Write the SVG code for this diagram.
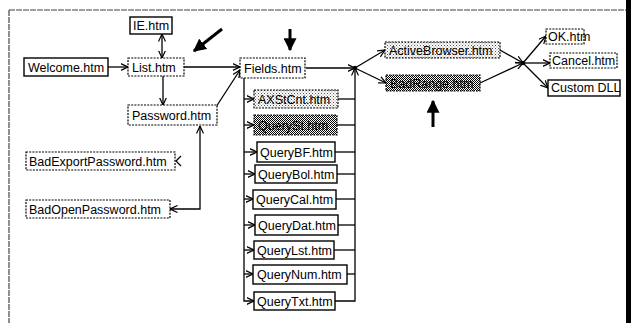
<svg xmlns="http://www.w3.org/2000/svg" width="633" height="323" viewBox="0 0 633 323">
<defs>
<style>
text{font-family:"Liberation Sans",Arial,sans-serif;font-size:12.5px;fill:#000}
.solid{fill:#fff;stroke:#000;stroke-width:1.4}
.dash{fill:#fff;stroke:#000;stroke-width:1.2;stroke-dasharray:2 1.2}
.stip{fill:url(#stipple);stroke:#000;stroke-width:1.2;stroke-dasharray:2 1.2}
.dark{fill:url(#hatch);stroke:#000;stroke-width:1.2;stroke-dasharray:2 1.2}
.c{fill:none;stroke:#000;stroke-width:1.3}
.big{fill:none;stroke:#000;stroke-width:3}
</style>
<pattern id="stipple" width="3" height="3" patternUnits="userSpaceOnUse">
<rect width="3" height="3" fill="#fff"/><rect width="1" height="1" fill="#555"/><rect x="1.5" y="1.5" width="1" height="1" fill="#888"/>
</pattern>
<pattern id="hatch" width="2" height="2" patternUnits="userSpaceOnUse">
<rect width="2" height="2" fill="#fff"/><rect width="1" height="1" fill="#000"/><rect x="1" y="1" width="1" height="1" fill="#000"/>
</pattern>
<marker id="a" viewBox="0 0 8 8" refX="7.5" refY="4" markerWidth="8" markerHeight="8" markerUnits="userSpaceOnUse" orient="auto-start-reverse">
<path d="M0,0.5 L7.5,4 L0,7.5" fill="none" stroke="#000" stroke-width="1.2"/>
</marker>
<marker id="b" viewBox="0 0 10 10" refX="9" refY="5" markerWidth="13" markerHeight="13" markerUnits="userSpaceOnUse" orient="auto">
<path d="M0,0 L10,5 L0,10 Z" fill="#000"/>
</marker>
</defs>

<g id="frame">
<line x1="9" y1="10" x2="628" y2="10" stroke="#444" stroke-width="1.2" stroke-dasharray="6 1"/>
<line x1="9" y1="10" x2="9" y2="323" stroke="#444" stroke-width="1.2" stroke-dasharray="6 1"/>
<rect x="626" y="0" width="5" height="323" fill="#000"/>
</g>

<g id="connectors">
<path class="c" d="M108,67 H128" marker-end="url(#a)"/>
<path class="c" d="M162,34 V58" marker-start="url(#a)" marker-end="url(#a)"/>
<path class="c" d="M163,76 V105" marker-end="url(#a)"/>
<path class="c" d="M184,67 H240" marker-end="url(#a)"/>
<path class="c" d="M216,107 L240,70" marker-end="url(#a)"/>
<path class="c" d="M200,126 V209 H170" marker-start="url(#a)" marker-end="url(#a)"/>
<path class="c" d="M181,156 L176,161 L181,166"/>
<path class="c" d="M244,78 V301 H254" marker-end="url(#a)"/>
<path class="c" d="M244,99 H254" marker-end="url(#a)"/>
<path class="c" d="M244,125 H254" marker-end="url(#a)"/>
<path class="c" d="M244,152 H257" marker-end="url(#a)"/>
<path class="c" d="M244,174 H255" marker-end="url(#a)"/>
<path class="c" d="M244,199 H253" marker-end="url(#a)"/>
<path class="c" d="M244,225 H255" marker-end="url(#a)"/>
<path class="c" d="M244,250 H254" marker-end="url(#a)"/>
<path class="c" d="M244,274 H253" marker-end="url(#a)"/>
<path class="c" d="M335,301 H355 V68" marker-end="url(#a)"/>
<path class="c" d="M338,99 H355"/>
<path class="c" d="M337,125 H355"/>
<path class="c" d="M335,152 H355"/>
<path class="c" d="M337,174 H355"/>
<path class="c" d="M336,199 H355"/>
<path class="c" d="M338,225 H355"/>
<path class="c" d="M334,250 H355"/>
<path class="c" d="M347,274 H355"/>
<path class="c" d="M306,68 H355" marker-end="url(#a)"/>
<path class="c" d="M355,68 L385,50" marker-end="url(#a)"/>
<path class="c" d="M355,68 L386,83" marker-end="url(#a)"/>
<path class="c" d="M500,50 L523,63" marker-end="url(#a)"/>
<path class="c" d="M480,83 L523,63" marker-end="url(#a)"/>
<path class="c" d="M523,63 L546,36" marker-end="url(#a)"/>
<path class="c" d="M523,63 H550" marker-end="url(#a)"/>
<path class="c" d="M523,63 L548,88" marker-end="url(#a)"/>
<circle cx="355" cy="68" r="2.2" fill="#000"/>
<circle cx="523" cy="63" r="2.2" fill="#000"/>
<path class="big" d="M222,29 L194,51" marker-end="url(#b)"/>
<path class="big" d="M290,29 V50" marker-end="url(#b)"/>
<path class="big" d="M433,127 V101" marker-end="url(#b)"/>
</g>

<g id="ie"><rect class="solid" x="130" y="17" width="42" height="17"/><text x="133" y="30">IE.htm</text></g>
<g id="welcome"><rect class="solid" x="24" y="58" width="84" height="18"/><text x="28" y="72">Welcome.htm</text></g>
<g id="list"><rect class="dash" x="128" y="58" width="56" height="18"/><text x="132" y="72">List.htm</text></g>
<g id="password"><rect class="dash" x="128" y="105" width="89" height="20"/><text x="132" y="120">Password.htm</text></g>
<g id="badexport"><rect class="dash" x="26" y="152" width="149" height="18"/><text x="29" y="166">BadExportPassword.htm</text></g>
<g id="badopen"><rect class="dash" x="26" y="200" width="144" height="18"/><text x="29" y="214">BadOpenPassword.htm</text></g>
<g id="fields"><rect class="dash" x="240" y="58" width="65" height="20"/><text x="244" y="73">Fields.htm</text></g>
<g id="axstcnt"><rect class="stip" x="254" y="90" width="84" height="18"/><text x="258" y="104">AXStCnt.htm</text></g>
<g id="queryst"><rect class="dark" x="254" y="115" width="83" height="20"/><text x="258" y="130">QuerySt.htm</text></g>
<g id="querybf"><rect class="solid" x="257" y="142" width="78" height="20"/><text x="260" y="157">QueryBF.htm</text></g>
<g id="querybol"><rect class="solid" x="255" y="165" width="82" height="18"/><text x="258" y="179">QueryBol.htm</text></g>
<g id="querycal"><rect class="solid" x="253" y="190" width="83" height="19"/><text x="256" y="204">QueryCal.htm</text></g>
<g id="querydat"><rect class="solid" x="255" y="215" width="83" height="20"/><text x="258" y="230">QueryDat.htm</text></g>
<g id="querylst"><rect class="solid" x="254" y="241" width="80" height="18"/><text x="257" y="255">QueryLst.htm</text></g>
<g id="querynum"><rect class="solid" x="253" y="265" width="94" height="19"/><text x="257" y="279">QueryNum.htm</text></g>
<g id="querytxt"><rect class="solid" x="254" y="292" width="81" height="18"/><text x="257" y="306">QueryTxt.htm</text></g>
<g id="activebrowser"><rect class="stip" x="385" y="42" width="115" height="16"/><text x="389" y="55">ActiveBrowser.htm</text></g>
<g id="badrange"><rect class="dark" x="386" y="75" width="94" height="16"/><text x="390" y="88">BadRange.htm</text></g>
<g id="ok"><rect class="dash" x="546" y="29" width="38" height="15"/><text x="548" y="41">OK.htm</text></g>
<g id="cancel"><rect class="dash" x="550" y="53" width="67" height="15"/><text x="552" y="65">Cancel.htm</text></g>
<g id="customdll"><rect class="solid" x="548" y="80" width="72" height="16"/><text x="551" y="92">Custom DLL</text></g>
</svg>
